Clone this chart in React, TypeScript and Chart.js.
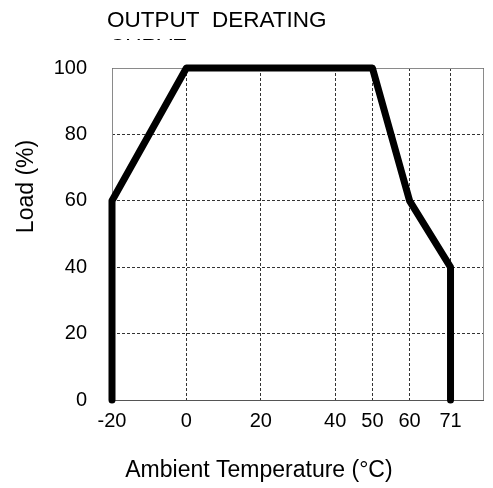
import React, { useEffect, useRef } from "react";
import { Chart, registerables } from "chart.js";

Chart.register(...registerables);

const TEMPERATURE = [-20, -20, 0, 50, 60, 71, 71];
const LOAD = [0, 60, 100, 100, 60, 40, 0];
const X_TICKS = [-20, 0, 20, 40, 50, 60, 71];
const Y_TICKS = [0, 20, 40, 60, 80, 100];
const TITLE_LINES = ["OUTPUT  DERATING", "CURVE"];
const X_TITLE = "Ambient Temperature (°C)";
const Y_TITLE = "Load (%)";

const FONT = '"Liberation Sans", Arial, sans-serif';

export default function App() {
  const ref = useRef<HTMLCanvasElement>(null);

  useEffect(() => {
    const canvas = ref.current;
    if (!canvas) return;

    const framePlugin = {
      id: "frameAndTexts",
      beforeDatasetsDraw(chart: any) {
        const { ctx, chartArea: a } = chart;
        ctx.save();
        ctx.lineWidth = 1;
        ctx.setLineDash([]);
        ctx.strokeStyle = "#8a8a8a";
        ctx.beginPath();
        ctx.moveTo(a.left + 0.5, a.bottom);
        ctx.lineTo(a.left + 0.5, a.top + 0.5);
        ctx.lineTo(a.right - 0.5, a.top + 0.5);
        ctx.lineTo(a.right - 0.5, a.bottom);
        ctx.stroke();
        ctx.strokeStyle = "#555";
        ctx.beginPath();
        ctx.moveTo(a.left, a.bottom + 0.5);
        ctx.lineTo(a.right, a.bottom + 0.5);
        ctx.stroke();
        ctx.restore();
      },
      afterDraw(chart: any) {
        const { ctx, chartArea: a } = chart;
        ctx.save();
        ctx.fillStyle = "#000";
        ctx.font = `22.5px ${FONT}`;
        ctx.textAlign = "left";
        ctx.textBaseline = "alphabetic";
        ctx.fillText(TITLE_LINES[0], 99, 19);
        ctx.save();
        ctx.beginPath();
        ctx.rect(0, 0, chart.width, 32);
        ctx.clip();
        ctx.fillText(TITLE_LINES[1], 101, 46);
        ctx.restore();

        ctx.font = `23px ${FONT}`;
        ctx.textAlign = "center";
        ctx.fillText(X_TITLE, a.left + (a.right - a.left) * 0.395, 469);

        ctx.translate(25, 178.5);
        ctx.rotate(-Math.PI / 2);
        ctx.fillText(Y_TITLE, 0, 0);
        ctx.restore();
      },
    };

    const chart = new Chart(canvas, {
      type: "line",
      data: {
        datasets: [
          {
            data: TEMPERATURE.map((x, i) => ({ x, y: LOAD[i] })),
            borderColor: "#000",
            backgroundColor: "#000",
            borderWidth: 7,
            pointRadius: 0,
            borderCapStyle: "round",
            borderJoinStyle: "round",
            tension: 0,
            clip: false,
          } as any,
        ],
      },
      options: {
        animation: false,
        responsive: true,
        maintainAspectRatio: false,
        layout: { padding: { top: 60, right: 1, left: 0, bottom: 0 } },
        plugins: {
          legend: { display: false },
          title: { display: false },
          tooltip: { enabled: false },
        },
        scales: {
          x: {
            type: "linear",
            min: -20,
            max: 80,
            afterBuildTicks: (scale: any) => {
              scale.ticks = X_TICKS.map((v) => ({ value: v }));
            },
            afterFit: (scale: any) => {
              scale.height = 88;
            },
            ticks: {
              autoSkip: false,
              maxRotation: 0,
              padding: 9,
              color: "#000",
              font: { family: FONT, size: 20 },
            },
            grid: {
              color: "#333",
              lineWidth: 1,
              drawTicks: false,
              tickLength: 0,
            },
            border: { display: false, dash: [3, 2] },
          },
          y: {
            min: 0,
            max: 100,
            afterBuildTicks: (scale: any) => {
              scale.ticks = Y_TICKS.map((v) => ({ value: v }));
            },
            afterFit: (scale: any) => {
              scale.width = 104;
            },
            ticks: {
              padding: 25,
              color: "#000",
              font: { family: FONT, size: 20 },
            },
            grid: {
              color: "#333",
              lineWidth: 1,
              drawTicks: false,
              tickLength: 0,
            },
            border: { display: false, dash: [3, 2] },
          },
        },
      },
      plugins: [framePlugin],
    });

    return () => chart.destroy();
  }, []);

  return (
    <div style={{ position: "fixed", left: 8, top: 8, width: 477, height: 480 }}>
      <canvas ref={ref} />
    </div>
  );
}
